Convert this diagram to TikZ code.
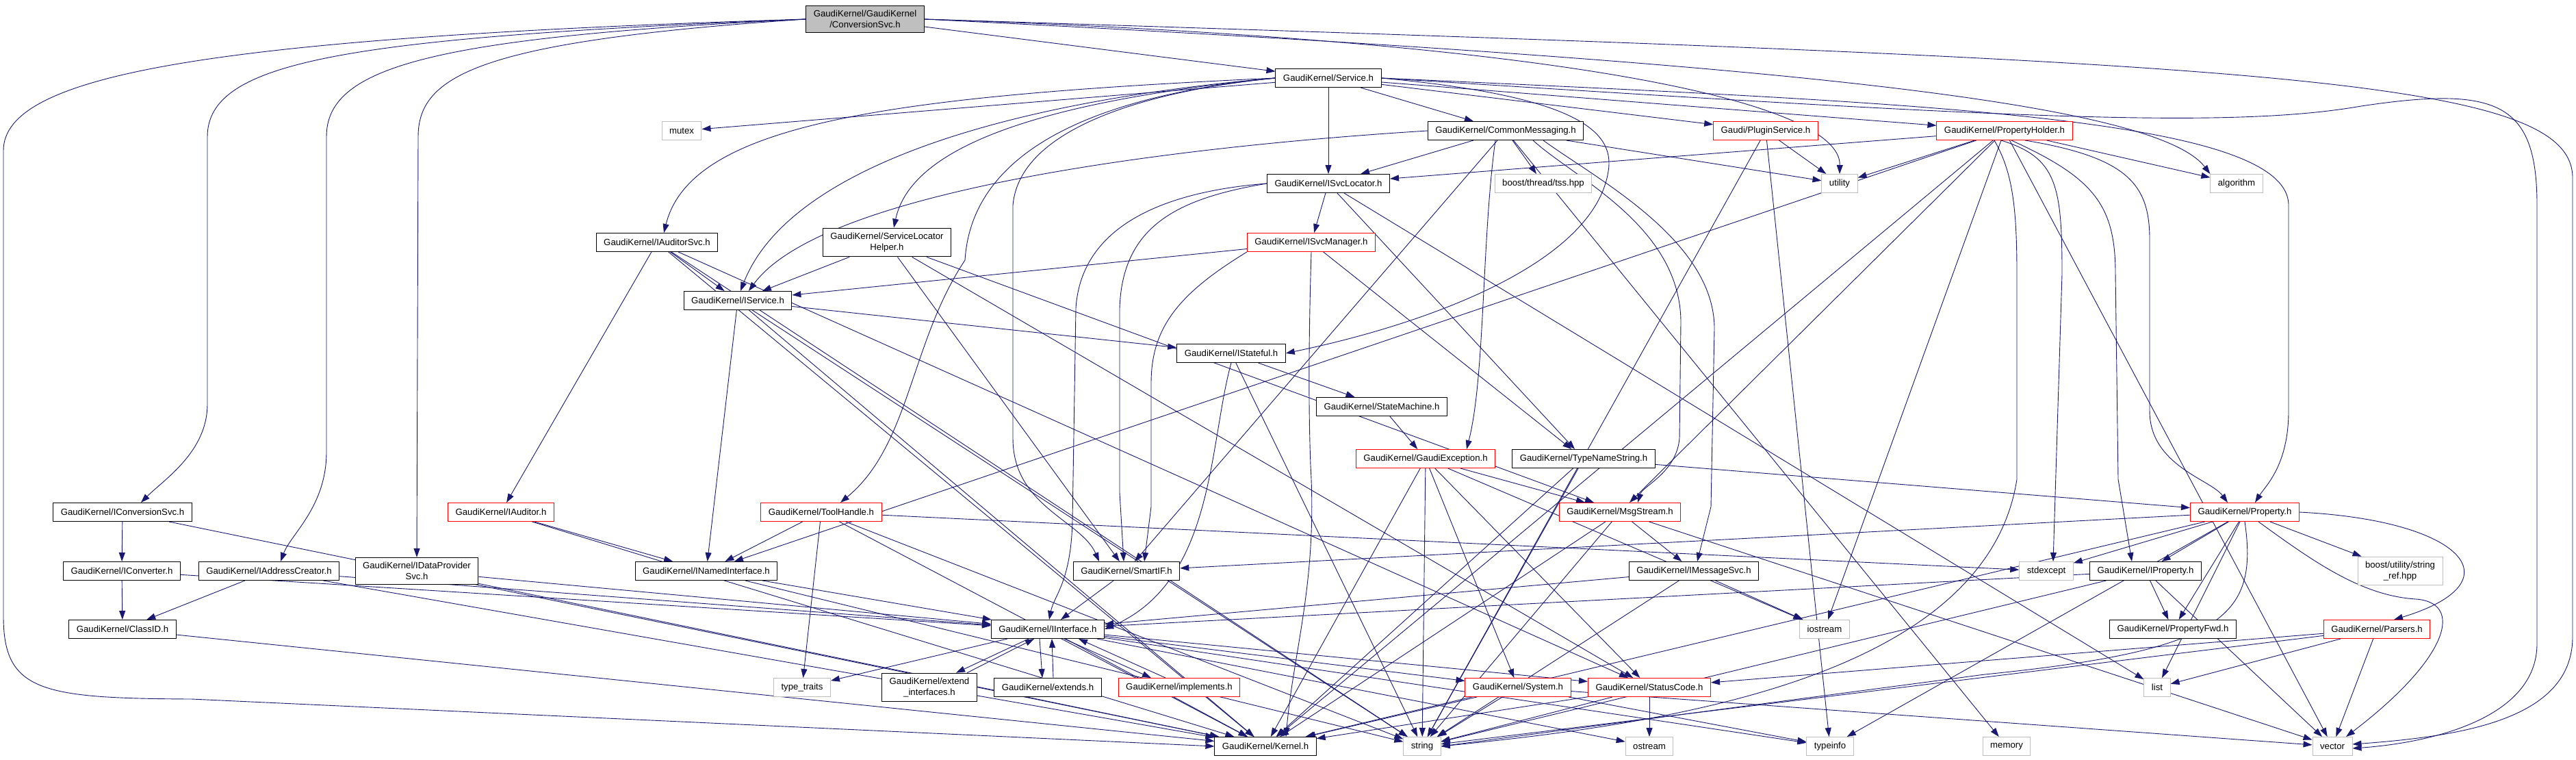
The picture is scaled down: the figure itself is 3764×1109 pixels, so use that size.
\documentclass[tikz,border=0pt]{standalone}
\usepackage{fontspec}
\setmainfont{Liberation Sans}
\usetikzlibrary{arrows.meta,backgrounds}
\definecolor{edgeblue}{HTML}{191970}
\definecolor{boxgray}{HTML}{BFBFBF}
\tikzset{
  hdr/.style={draw=black, fill=white, line width=1pt, minimum height=27pt,
    inner xsep=11pt, inner ysep=7pt, align=center},
  hdrtrunc/.style={hdr, draw=red},
  sysinc/.style={hdr, draw=boxgray},
  mainhdr/.style={hdr, fill=boxgray},
  edge/.style={draw=edgeblue, line width=0.9pt, -{Triangle[length=13pt,width=9pt]}}
}

\begin{document}
\begin{tikzpicture}[x=1pt, y=-1pt, font=\fontsize{13.2}{15.5}\selectfont]
    \useasboundingbox (0,0) rectangle (3764,1109);

    % headers, row by row
    \node[mainhdr] (conv) at (1264,28) {GaudiKernel/GaudiKernel\\/ConversionSvc.h};
    \node[hdr] (service) at (1941,114) {GaudiKernel/Service.h};

    \node[sysinc] (mutex) at (996,191) {mutex};
    \node[hdr] (commsg) at (2200,191) {GaudiKernel/CommonMessaging.h};
    \node[hdrtrunc] (plugin) at (2580,191) {Gaudi/PluginService.h};
    \node[hdrtrunc] (propholder) at (2929,191) {GaudiKernel/PropertyHolder.h};

    \node[hdr] (isvcloc) at (1941,268) {GaudiKernel/ISvcLocator.h};
    \node[sysinc] (tss) at (2255,268) {boost/thread/tss.hpp};
    \node[sysinc] (utility) at (2688,268) {utility};
    \node[sysinc] (algorithm) at (3268,268) {algorithm};

    \node[hdr] (iauditorsvc) at (960,354) {GaudiKernel/IAuditorSvc.h};
    \node[hdr] (slhelper) at (1296,354) {GaudiKernel/ServiceLocator\\Helper.h};
    \node[hdrtrunc] (isvcmgr) at (1916,354) {GaudiKernel/ISvcManager.h};

    \node[hdr] (iservice) at (1078,439) {GaudiKernel/IService.h};
    \node[hdr] (istateful) at (1799,516) {GaudiKernel/IStateful.h};
    \node[hdr] (statemachine) at (2019,594) {GaudiKernel/StateMachine.h};
    \node[hdrtrunc] (gexcept) at (2083,670) {GaudiKernel/GaudiException.h};
    \node[hdr] (typename) at (2314,670) {GaudiKernel/TypeNameString.h};

    \node[hdr] (iconvsvc) at (179,748) {GaudiKernel/IConversionSvc.h};
    \node[hdrtrunc] (iauditor) at (732,748) {GaudiKernel/IAuditor.h};
    \node[hdrtrunc] (toolhandle) at (1200,748) {GaudiKernel/ToolHandle.h};
    \node[hdrtrunc] (msgstream) at (2367,748) {GaudiKernel/MsgStream.h};
    \node[hdrtrunc] (property) at (3280,748) {GaudiKernel/Property.h};

    \node[hdr] (iconverter) at (178,834) {GaudiKernel/IConverter.h};
    \node[hdr] (iaddrcreator) at (393,834) {GaudiKernel/IAddressCreator.h};
    \node[hdr] (idataprov) at (609,834) {GaudiKernel/IDataProvider\\Svc.h};
    \node[hdr] (inamed) at (1032,834) {GaudiKernel/INamedInterface.h};
    \node[hdr] (smartif) at (1646,834) {GaudiKernel/SmartIF.h};
    \node[hdr] (imsgsvc) at (2475,834) {GaudiKernel/IMessageSvc.h};
    \node[sysinc] (stdexcept) at (2990,834) {stdexcept};
    \node[hdr] (iproperty) at (3135,834) {GaudiKernel/IProperty.h};
    \node[sysinc] (stringref) at (3507,834) {boost/utility/string\\\_ref.hpp};

    \node[hdr] (classid) at (179,919) {GaudiKernel/ClassID.h};
    \node[hdr] (iinterface) at (1531,919) {GaudiKernel/IInterface.h};
    \node[sysinc] (iostream) at (2666,919) {iostream};
    \node[hdr] (propfwd) at (3175,919) {GaudiKernel/PropertyFwd.h};
    \node[hdrtrunc] (parsers) at (3473,919) {GaudiKernel/Parsers.h};

    \node[sysinc] (typetraits) at (1172,1004) {type\_traits};
    \node[hdr] (extendif) at (1358,1004) {GaudiKernel/extend\\\_interfaces.h};
    \node[hdr] (extends) at (1531,1004) {GaudiKernel/extends.h};
    \node[hdrtrunc] (implements) at (1723,1004) {GaudiKernel/implements.h};
    \node[hdrtrunc] (system) at (2218,1004) {GaudiKernel/System.h};
    \node[hdrtrunc] (statuscode) at (2410,1004) {GaudiKernel/StatusCode.h};
    \node[sysinc] (list) at (3152,1004) {list};

    \node[hdr] (kernel) at (1849,1090) {GaudiKernel/Kernel.h};
    \node[sysinc] (string) at (2078,1090) {string};
    \node[sysinc] (ostream) at (2410,1090) {ostream};
    \node[sysinc] (typeinfo) at (2674,1090) {typeinfo};
    \node[sysinc] (memory) at (2932,1090) {memory};
    \node[sysinc] (vector) at (3408,1090) {vector};

    \begin{scope}[on background layer]
        \fill[white] (0,0) rectangle (3764,1109);

        % includes drawn as plain lines
        \foreach \a/\b in {conv/service,
            service/mutex, service/isvcloc, service/commsg, service/plugin, service/propholder,
            commsg/isvcloc, commsg/tss, commsg/utility, commsg/smartif, commsg/memory,
            plugin/utility, plugin/string, plugin/typeinfo,
            propholder/isvcloc, propholder/utility, propholder/algorithm, propholder/inamed,
            propholder/msgstream, propholder/iostream, propholder/vector, propholder/kernel,
            isvcloc/isvcmgr, isvcloc/typename, isvcloc/list,
            isvcmgr/iservice, isvcmgr/typename,
            iauditorsvc/iauditor, iauditorsvc/iservice, iauditorsvc/kernel,
            iauditorsvc/statuscode, iauditorsvc/string,
            slhelper/iservice, slhelper/smartif, slhelper/msgstream, slhelper/statuscode,
            iservice/istateful, iservice/inamed, iservice/kernel, iservice/string,
            istateful/statemachine, istateful/string,
            statemachine/gexcept,
            gexcept/msgstream, gexcept/kernel, gexcept/string, gexcept/system,
            gexcept/statuscode, gexcept/iostream,
            typename/property, typename/string, typename/kernel,
            msgstream/imsgsvc, msgstream/string, msgstream/vector, msgstream/kernel,
            imsgsvc/iinterface, imsgsvc/iostream, imsgsvc/string,
            iconvsvc/iconverter, iconvsvc/kernel,
            iconverter/classid, iconverter/iinterface,
            iaddrcreator/classid, iaddrcreator/iinterface, iaddrcreator/kernel,
            idataprov/iinterface, idataprov/kernel,
            classid/kernel,
            iauditor/inamed, iauditor/kernel,
            toolhandle/inamed, toolhandle/typetraits, toolhandle/stdexcept,
            toolhandle/kernel, toolhandle/string,
            inamed/iinterface, inamed/string,
            smartif/iinterface,
            iinterface/typetraits, iinterface/system, iinterface/statuscode,
            iinterface/kernel, iinterface/ostream, iinterface/typeinfo,
            system/kernel, system/string, system/typeinfo, system/vector,
            statuscode/kernel, statuscode/string, statuscode/ostream,
            property/stdexcept, property/iproperty, property/propfwd, property/stringref,
            property/smartif, property/list, property/typeinfo, property/kernel,
            iproperty/propfwd, iproperty/iinterface, iproperty/string, iproperty/vector,
            parsers/list, parsers/vector, parsers/string, parsers/statuscode}
            \draw[edge] (\a) -- (\b);

        % long routes round the left side
        \draw[edge] (conv.west) .. controls (300,55) and (5,110) .. (5,220) -- (5,900)
            .. controls (5,1010) and (60,1020) .. (280,1021) -- (kernel.west);
        \draw[edge] (conv.west) .. controls (500,55) and (303,90) .. (303,200) -- (303,590)
            .. controls (303,660) and (240,700) .. ([xshift=27pt]iconvsvc.north);
        \draw[edge] (conv.west) .. controls (620,55) and (477,100) .. (477,200) -- (477,660)
            .. controls (477,740) and (425,780) .. ([xshift=17pt]iaddrcreator.north);
        \draw[edge] (conv.west) .. controls (700,60) and (611,110) .. (611,200) -- (idataprov.north);

        % long routes round the right side
        \draw[edge] (conv.east) .. controls (2300,60) and (2690,150) .. (utility.north);
        \draw[edge] (conv.east) .. controls (2600,90) and (3150,150) .. (algorithm.north west);
        \draw[edge] (conv.east) .. controls (3300,90) and (3759,110) .. (3759,260) -- (3759,930)
            .. controls (3759,1050) and (3600,1075) .. ([yshift=3pt]vector.east);
        \draw[edge] (service.east) .. controls (2900,170) and (3250,190) .. (3450,155)
            .. controls (3650,125) and (3707,150) .. (3707,300) -- (3707,940)
            .. controls (3707,1050) and (3550,1085) .. ([yshift=-3pt]vector.east);
        \draw[edge] (service.east) .. controls (2800,150) and (3344,170) .. (3344,300) -- (3344,600)
            .. controls (3344,680) and (3310,710) .. ([xshift=15pt]property.north);

        % service fanning out to the left
        \draw[edge] (service.west) .. controls (1300,140) and (1010,180) .. ([xshift=10pt]iauditorsvc.north);
        \draw[edge] (service.west) .. controls (1500,150) and (1330,220) .. ([xshift=10pt]slhelper.north);
        \draw[edge] (service.west) .. controls (1450,150) and (1150,250) .. ([xshift=4pt]iservice.north);
        \draw[edge] (commsg.west) .. controls (1700,215) and (1200,280) .. ([xshift=16pt]iservice.north);
        \draw[edge] (service.west) .. controls (1600,140) and (1420,220) .. (1410,380)
            .. controls (1330,500) and (1330,650) .. ([xshift=28pt]toolhandle.north);
        \draw[edge] (service.west) .. controls (1700,130) and (1490,180) .. (1480,300) -- (1480,640)
            .. controls (1480,740) and (1580,760) .. ([xshift=-40pt]smartif.north);
        \draw[edge] (service.east) .. controls (2300,140) and (2360,190) .. (2350,250)
            .. controls (2330,380) and (2100,470) .. (istateful.east);

        % messaging down the middle
        \draw[edge] ([xshift=-15pt]commsg.south) .. controls (2165,350) and (2170,550)
            .. ([xshift=60pt]gexcept.north);
        \draw[edge] ([xshift=40pt]commsg.south) .. controls (2300,260) and (2455,330) .. (2456,470)
            -- (2454,640) .. controls (2450,690) and (2400,710) .. ([xshift=26pt]msgstream.north);
        \draw[edge] ([xshift=55pt]commsg.south) .. controls (2330,260) and (2505,350) .. (2505,480)
            -- (2500,740) -- ([xshift=5pt]imsgsvc.north);

        % locator and manager down to the interfaces
        \draw[edge] (isvcloc.west) .. controls (1700,280) and (1580,330) .. (1572,450) -- (1567,760)
            .. controls (1565,850) and (1540,870) .. ([xshift=2pt]iinterface.north);
        \draw[edge] (isvcloc.west) .. controls (1720,290) and (1640,330) .. (1636,450) -- (1636,720)
            -- ([xshift=-4pt]smartif.north);
        \draw[edge] (isvcmgr.south west) .. controls (1720,430) and (1682,480) .. (1682,560)
            -- (1682,740) -- ([xshift=26pt]smartif.north);
        \draw[edge] (isvcmgr.south) .. controls (1912,500) and (1912,600) .. (1915,680)
            .. controls (1925,850) and (1890,950) .. ([xshift=30pt]kernel.north);
        \draw[edge] (istateful.south) .. controls (1766,650) and (1775,850) .. (iinterface.east);

        % property fan on the right
        \draw[edge] (property.south) .. controls (3300,900) and (3250,950) .. (2900,985) -- (string.east);
        \draw[edge] (property.east) .. controls (3600,760) and (3680,850) .. ([xshift=25pt]parsers.north);
        \draw[edge] ([xshift=20pt]property.south) .. controls (3380,820) and (3450,870) .. (3530,875)
            .. controls (3600,880) and (3580,960) .. ([xshift=20pt]vector.north);

        % property holder fan
        \draw[edge] ([xshift=30pt]propholder.south) .. controls (3110,230) and (3141,270) .. (3141,350)
            -- (3141,600) .. controls (3141,680) and (3230,700) .. ([xshift=-25pt]property.north);
        \draw[edge] ([xshift=10pt]propholder.south) .. controls (3060,260) and (3091,300) .. (3091,400)
            -- (3095,700) -- ([xshift=-20pt]iproperty.north);
        \draw[edge] ([xshift=-5pt]propholder.south) .. controls (3005,230) and (3013,270) .. (3013,400)
            -- ([xshift=10pt]stdexcept.north);
        \draw[edge] ([xshift=-15pt]propholder.south) .. controls (2940,250) and (2947,300) .. (2947,400)
            -- (2947,700) .. controls (2900,1000) and (2400,1060) .. (string.east);

        % interface helpers include each other
        \draw[edge] ([xshift=-12pt]iinterface.south) -- ([xshift=-8pt]extends.north);
        \draw[edge] ([xshift=8pt]extends.north) -- ([xshift=6pt]iinterface.south);
        \draw[edge] ([xshift=-28pt]iinterface.south) -- ([xshift=39pt]extendif.north);
        \draw[edge] ([xshift=55pt]extendif.north) -- ([xshift=-20pt]iinterface.south);
        \draw[edge] ([xshift=24pt]iinterface.south) -- ([xshift=-41pt]implements.north);
        \draw[edge] ([xshift=-20pt]implements.north) -- ([xshift=45pt]iinterface.south);
    \end{scope}
\end{tikzpicture}
\end{document}
